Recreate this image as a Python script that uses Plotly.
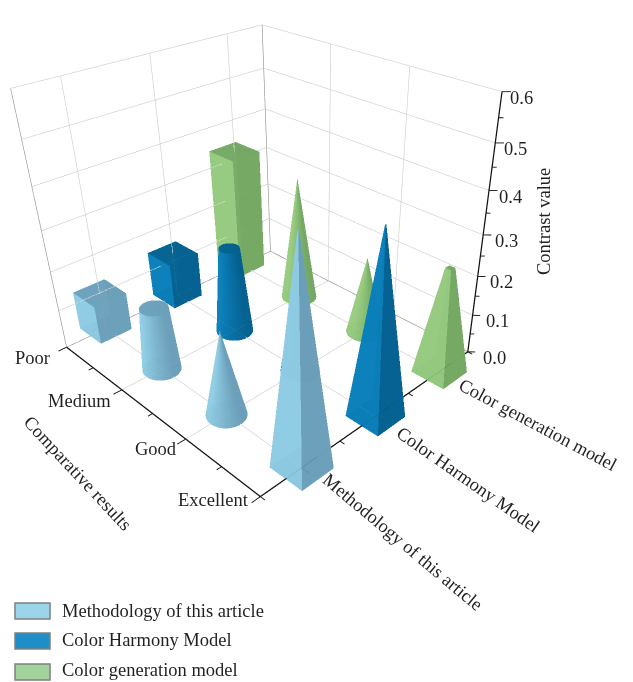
import numpy as np
import plotly.graph_objects as go

# --- values ---
levels = ["Poor", "Medium", "Good", "Excellent"]
models = ["Methodology of this article", "Color Harmony Model", "Color generation model"]
z_ticks = [0.0, 0.1, 0.2, 0.3, 0.4, 0.5, 0.6]
methodology = [0.10, 0.16, 0.21, 0.51]
harmony = [0.12, 0.22, 0.30, 0.44]
generation = [0.32, 0.32, 0.20, 0.265]
columns = [methodology, harmony, generation]
kinds = [["box", "frustum", "cone", "pyramid"], ["box", "frustum", "cone", "pyramid"], ["box", "cone", "cone", "pyramid"]]

W, H = 633, 682
AY, AZ = 0.9559, 0.9009
EX, EY, EZ = 1.7411, -1.5069, 1.2135
CX, CY, CZ = 0.2442, -0.0010, -0.2919

X0, X1, Y0, Y1, Z0, Z1 = 1, 4, 0.5, 3.5, 0, 0.6

light = ["#90CDE5", "#0A80BC", "#98CC80"]
dark = ["#6A9EB8", "#03608F", "#72A762"]
OPACITY = 0.9


def hex2rgb(h):
    return np.array([int(h[i:i + 2], 16) for i in (1, 3, 5)], float)


def shade(nx, ny, k):
    t = np.clip(((-ny - nx) / np.sqrt(2) + 0.75) / 1.5, 0, 1)
    c = hex2rgb(dark[k]) * (1 - t) + hex2rgb(light[k]) * t
    return "rgb(%d,%d,%d)" % tuple(c)


EYE = np.array([EX, EY, EZ])
SC = np.array([1 / 3, AY / 3, AZ / 0.6])
MID = np.array([2.5, 2.0, 0.3])


def to_world(pt):
    return (np.asarray(pt, float) - MID) * SC


def solid(xc, yc, h, kind, k):
    sides = 4 if kind in ("box", "pyramid") else 48
    half = 0.2
    r0 = half * np.sqrt(2) if sides == 4 else half
    ratio = {"box": 1.0, "frustum": 0.55 if k == 1 else 0.72, "cone": 0.0, "pyramid": 0.02 if k < 2 else 0.17}[kind]
    a = np.arange(sides) * 2 * np.pi / sides + (np.pi / 4 if sides == 4 else 0)
    xs = np.r_[xc + r0 * np.cos(a), xc + r0 * ratio * np.cos(a), xc, xc]
    ys = np.r_[yc + r0 * np.sin(a), yc + r0 * ratio * np.sin(a), yc, yc]
    zs = np.r_[np.zeros(sides), np.full(sides, h), 0, h]
    tris, cols = [], []
    for i in range(sides):
        j = (i + 1) % sides
        mid = a[i] + np.pi / sides
        col = shade(np.cos(mid), np.sin(mid), k)
        tris += [(i, j, sides + j), (i, sides + j, sides + i)]
        cols += [col, col]
        tris.append((2 * sides, j, i))
        cols.append(dark[k])
        tris.append((2 * sides + 1, sides + i, sides + j))
        cols.append(dark[k])
    pts = np.c_[xs, ys, zs]
    # far faces of a solid go first so the blending stacks correctly
    cent = [to_world(pts[list(t)].mean(axis=0)) for t in tris]
    order = np.argsort([-np.linalg.norm(c - EYE) for c in cent])
    return pts, [tris[o] for o in order], [cols[o] for o in order]


def segs(lst, color, width):
    xs, ys, zs = [], [], []
    for a, b in lst:
        xs += [a[0], b[0], None]
        ys += [a[1], b[1], None]
        zs += [a[2], b[2], None]
    return go.Scatter3d(x=xs, y=ys, z=zs, mode="lines", line=dict(color=color, width=width),
                        hoverinfo="skip", showlegend=False)


fig = go.Figure()

light_grid, dark_grid, axes, ticks = [], [], [], []
for z in z_ticks[1:]:
    light_grid += [((X0, Y0, z), (X0, Y1, z)), ((X0, Y1, z), (X1, Y1, z))]
for x in range(2, 4):
    light_grid += [((x, Y0, 0), (x, Y1, 0)), ((x, Y1, 0), (x, Y1, Z1))]
for y in range(1, 4):
    light_grid += [((X0, y, 0), (X1, y, 0)), ((X0, y, 0), (X0, y, Z1))]
dark_grid += [((X0, Y0, 0), (X0, Y1, 0)), ((X0, Y1, 0), (X1, Y1, 0)),
              ((X0, Y1, 0), (X0, Y1, Z1)), ((X0, Y0, 0), (X0, Y0, Z1))]
axes += [((X0, Y0, 0), (X1, Y0, 0)), ((X1, Y0, 0), (X1, Y1, 0)), ((X1, Y1, 0), (X1, Y1, Z1))]
for x in np.arange(1, 4.01, 0.5):
    ln = 0.10 if x == int(x) else 0.055
    ticks.append(((x, Y0, 0), (x, Y0 - ln, 0)))
for y in np.arange(0.5, 3.51, 0.5):
    ln = 0.10 if y == int(y) else 0.055
    ticks.append(((X1, y, 0), (X1 + ln, y, 0)))
for i in range(13):
    z = i * 0.05
    ln = 0.055 if i % 2 == 0 else 0.03
    ticks.append(((X1, Y1, z), (X1 + ln, Y1 + ln, z)))
fig.add_trace(segs(light_grid, "#CCCCCC", 1.2))
fig.add_trace(segs(dark_grid, "#8C8C8C", 1.2))
fig.add_trace(segs(axes, "#111111", 2.5))
fig.add_trace(segs(ticks, "#111111", 1.8))

# every solid lives in one mesh, far solids first
items = []
for k, vals in enumerate(columns):
    for i, v in enumerate(vals):
        d = np.linalg.norm(to_world((i + 1, k + 1, 0)) - EYE)
        items.append((d, solid(i + 1, k + 1, v, kinds[k][i], k)))
items.sort(key=lambda t: -t[0])
P, T, C = [], [], []
n = 0
for _, (pts, tris, cols) in items:
    P.append(pts)
    T += [(a + n, b + n, c + n) for a, b, c in tris]
    C += cols
    n += len(pts)
P = np.vstack(P)
T = np.array(T)
fig.add_trace(go.Mesh3d(x=P[:, 0], y=P[:, 1], z=P[:, 2], i=T[:, 0], j=T[:, 1], k=T[:, 2], facecolor=C,
                        opacity=OPACITY, flatshading=True,
                        lighting=dict(ambient=1, diffuse=0, specular=0, fresnel=0),
                        hoverinfo="skip", showscale=False))

FONT = "Liberation Serif"
TXT = "#231F20"
SIZE = 18.5
ann = []


def label(x, y, z, text, dx, dy, angle=0, anchor="center"):
    ann.append(dict(x=x, y=y, z=z, text=text, showarrow=False, xshift=dx, yshift=dy, textangle=angle,
                    xanchor=anchor, yanchor="middle", font=dict(family=FONT, size=SIZE, color=TXT)))


level_off = [(-15, -11), (-9, -11), (-7, -10), (-9, -3)]
for i, t in enumerate(levels):
    label(i + 1, Y0, 0, t, level_off[i][0], level_off[i][1], 0, "right")
label(2.5, Y0, 0, "Comparative results", -75, -59, 47)
ang = [40, 35, 28]
off = [(101, -74), (93, -64), (99, -53)]
for k, t in enumerate(models):
    label(X1, k + 1, 0, t, off[k][0], off[k][1], ang[k])
for i, z in enumerate(z_ticks):
    label(X1, Y1, z, f"{z:.1f}", 13 - i * 7 / 6, -6, 0, "left")
label(X1, Y1, 0.3, "Contrast value", 61, 13, -90)

shapes, pa = [], []
swatch = ["#9BD5EA", "#1F8DC6", "#A3D39C"]
tops = [603, 633, 664]
text_mid = [611, 640, 670]
for k, t in enumerate(models):
    shapes.append(dict(type="rect", xref="paper", yref="paper", x0=15 / W, x1=50 / W,
                       y0=1 - (tops[k] + 16) / H, y1=1 - tops[k] / H,
                       fillcolor=swatch[k], line=dict(color="#808080", width=1.5)))
    pa.append(dict(xref="paper", yref="paper", x=60 / W, y=1 - text_mid[k] / H, text=t, showarrow=False,
                   xanchor="left", yanchor="middle", font=dict(family=FONT, size=SIZE, color=TXT)))

hid = dict(visible=False, showgrid=False, zeroline=False, showspikes=False)
fig.update_layout(
    width=W, height=H, margin=dict(l=0, r=0, t=0, b=0), paper_bgcolor="white", showlegend=False,
    shapes=shapes, annotations=pa,
    scene=dict(
        domain=dict(x=[0, 1], y=[0, 1]),
        xaxis=dict(range=[0.5, 4.5], **hid), yaxis=dict(range=[0, 4], **hid), zaxis=dict(range=[-0.1, 0.7], **hid),
        aspectmode="manual", aspectratio=dict(x=4 / 3, y=AY * 4 / 3, z=AZ * 0.8 / 0.6),
        camera=dict(eye=dict(x=EX, y=EY, z=EZ), center=dict(x=CX, y=CY, z=CZ), up=dict(x=0, y=0, z=1),
                    projection=dict(type="perspective")),
        annotations=ann,
    ),
)
fig.write_html("out.html", config=dict(displayModeBar=False))
